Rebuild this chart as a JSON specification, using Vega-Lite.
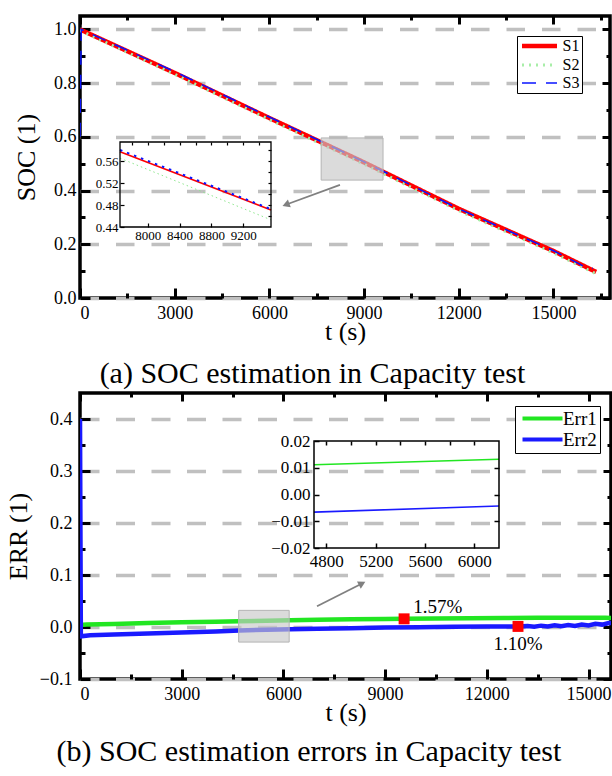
{
  "$schema": "https://vega.github.io/schema/vega-lite/v6.json",
  "padding": {"left": 3, "top": 12, "right": 0, "bottom": 0},
  "spacing": -2,
  "resolve": {"scale": {"color": "independent", "strokeDash": "independent", "strokeWidth": "independent"}, "legend": {"color": "independent", "strokeDash": "independent", "strokeWidth": "independent"}},
  "config": {
    "font": "Liberation Serif",
    "view": {"stroke": "black", "strokeWidth": 3.5},
    "axis": {"labelFont": "Liberation Serif", "titleFont": "Liberation Serif", "labelColor": "black", "titleColor": "black", "tickColor": "black", "domain": false, "titleFontWeight": "normal", "grid": false, "labelOverlap": false},
    "legend": {"labelFont": "Liberation Serif", "labelColor": "black"},
    "title": {"font": "Liberation Serif", "fontWeight": "normal", "color": "black"}
  },
  "vconcat": [
    {
      "width": 530,
      "height": 282,
      "title": {"text": "(a) SOC estimation in Capacity test", "orient": "bottom", "fontSize": 30, "offset": 15, "baseline": "top", "anchor": "middle", "frame": "bounds"},
      "resolve": {"scale": {"x": "independent", "y": "independent"}, "axis": {"x": "independent", "y": "independent"}},
      "layer": [
        {
          "data": {"values": [
            {"t": 0, "soc": 1.0, "series": "S1"},
            {"t": 3000, "soc": 0.838, "series": "S1"},
            {"t": 6000, "soc": 0.670, "series": "S1"},
            {"t": 9000, "soc": 0.505, "series": "S1"},
            {"t": 12000, "soc": 0.332, "series": "S1"},
            {"t": 15000, "soc": 0.175, "series": "S1"},
            {"t": 16350, "soc": 0.097, "series": "S1"},
            {"t": 0, "soc": 0.996, "series": "S2"},
            {"t": 3000, "soc": 0.833, "series": "S2"},
            {"t": 6000, "soc": 0.664, "series": "S2"},
            {"t": 9000, "soc": 0.498, "series": "S2"},
            {"t": 12000, "soc": 0.325, "series": "S2"},
            {"t": 15000, "soc": 0.168, "series": "S2"},
            {"t": 16350, "soc": 0.09, "series": "S2"}
          ]},
          "mark": {"type": "line", "clip": true},
          "encoding": {
            "x": {"field": "t", "type": "quantitative", "scale": {"domain": [0, 16790], "nice": false, "zero": false},
              "axis": {"orient": "bottom", "values": [0, 3000, 6000, 9000, 12000, 15000], "format": "d", "title": "t (s)", "labelFontSize": 18, "titleFontSize": 26, "tickSize": -10, "tickWidth": 3, "labelPadding": 16, "titlePadding": -4}},
            "y": {"field": "soc", "type": "quantitative", "scale": {"domain": [0, 1.05], "nice": false, "zero": false},
              "axis": {"orient": "left", "values": [0, 0.2, 0.4, 0.6, 0.8, 1.0], "format": ".1f", "title": "SOC (1)", "labelFontSize": 18, "titleFontSize": 26, "tickSize": -10, "tickWidth": 3, "labelPadding": 14, "titlePadding": 14, "grid": true, "gridColor": "#c0c0c0", "gridWidth": 3.5, "gridDash": [18.5, 17]}},
            "color": {"field": "series", "type": "nominal", "scale": {"domain": ["S1", "S2", "S3"], "range": ["#ff0000", "#a8eea8", "#0a14ff"]},
              "legend": {"title": null, "orient": "none", "legendX": 437, "legendY": 20, "strokeColor": "black", "fillColor": "white", "padding": 2, "labelFontSize": 16, "symbolType": "M-3.5,0H3.5", "symbolSize": 100, "symbolOffset": 12.5, "labelOffset": 15, "symbolStrokeWidth": 4, "rowPadding": 2}},
            "strokeDash": {"field": "series", "type": "nominal", "scale": {"domain": ["S1", "S2", "S3"], "range": [[1, 0], [2, 5], [14, 10]]}},
            "strokeWidth": {"field": "series", "type": "nominal", "scale": {"domain": ["S1", "S2", "S3"], "range": [4.5, 1.5, 5]}}
          }
        },
        {
          "data": {"values": [
            {"t": 0, "soc": 0.6, "series": "S3"},
            {"t": 40, "soc": 1.0, "series": "S3"},
            {"t": 3000, "soc": 0.843, "series": "S3"},
            {"t": 6000, "soc": 0.674, "series": "S3"},
            {"t": 9000, "soc": 0.507, "series": "S3"},
            {"t": 12000, "soc": 0.332, "series": "S3"},
            {"t": 15000, "soc": 0.176, "series": "S3"},
            {"t": 15800, "soc": 0.128, "series": "S3"},
            {"t": 16050, "soc": 0.112, "series": "S3"},
            {"t": 16250, "soc": 0.111, "series": "S3"}
          ]},
          "mark": {"type": "line", "clip": true},
          "encoding": {
            "x": {"field": "t", "type": "quantitative", "scale": {"domain": [0, 16790], "nice": false, "zero": false}, "axis": null},
            "y": {"field": "soc", "type": "quantitative", "scale": {"domain": [0, 1.05], "nice": false, "zero": false}, "axis": null},
            "color": {"field": "series", "type": "nominal", "scale": {"domain": ["S1", "S2", "S3"], "range": ["#ff0000", "#a8eea8", "#0a14ff"]}},
            "strokeDash": {"field": "series", "type": "nominal", "scale": {"domain": ["S1", "S2", "S3"], "range": [[1, 0], [2, 5], [14, 10]]}},
            "strokeWidth": {"field": "series", "type": "nominal", "scale": {"domain": ["S1", "S2", "S3"], "range": [4.5, 1.5, 5]}}
          }
        },
        {
          "data": {"values": [{"t": 0, "v": 0}]},
          "mark": {"type": "point", "opacity": 0},
          "encoding": {
            "x": {"field": "t", "type": "quantitative", "scale": {"domain": [0, 16790], "nice": false, "zero": false},
              "axis": {"orient": "top", "values": [0, 3000, 6000, 9000, 12000, 15000], "labels": false, "title": null, "tickSize": -8, "tickWidth": 3}},
            "y": {"field": "v", "type": "quantitative", "scale": {"domain": [0, 1.05], "nice": false, "zero": false},
              "axis": {"orient": "right", "values": [0, 0.2, 0.4, 0.6, 0.8, 1.0], "labels": false, "title": null, "tickSize": -8, "tickWidth": 3}}
          }
        },
        {
          "data": {"values": [{"t": 0, "v": 0}]},
          "mark": {"type": "point", "opacity": 0},
          "encoding": {
            "x": {"field": "t", "type": "quantitative", "scale": {"domain": [0, 16790], "nice": false, "zero": false},
              "axis": {"orient": "bottom", "values": [1500, 4500, 7500, 10500, 13500, 16500], "labels": false, "title": null, "tickSize": -5, "tickWidth": 3}},
            "y": {"field": "v", "type": "quantitative", "scale": {"domain": [0, 1.05], "nice": false, "zero": false},
              "axis": {"orient": "left", "values": [0.1, 0.3, 0.5, 0.7, 0.9], "labels": false, "title": null, "tickSize": -5, "tickWidth": 3}}
          }
        },
        {
          "data": {"values": [{"t": 0, "v": 0}]},
          "mark": {"type": "point", "opacity": 0},
          "encoding": {
            "x": {"field": "t", "type": "quantitative", "scale": {"domain": [0, 16790], "nice": false, "zero": false},
              "axis": {"orient": "top", "values": [1500, 4500, 7500, 10500, 13500, 16500], "labels": false, "title": null, "tickSize": -4, "tickWidth": 3}},
            "y": {"field": "v", "type": "quantitative", "scale": {"domain": [0, 1.05], "nice": false, "zero": false},
              "axis": {"orient": "right", "values": [0.1, 0.3, 0.5, 0.7, 0.9], "labels": false, "title": null, "tickSize": -4, "tickWidth": 3}}
          }
        },
        {
          "data": {"values": [{"t1": 7640, "t2": 9600, "s1": 0.439, "s2": 0.596}]},
          "mark": {"type": "rect", "fill": "#c8c8c8", "fillOpacity": 0.65, "stroke": "#b4b4b4", "strokeWidth": 1},
          "encoding": {
            "x": {"field": "t1", "type": "quantitative", "scale": {"domain": [0, 16790], "nice": false, "zero": false}, "axis": null},
            "x2": {"field": "t2"},
            "y": {"field": "s1", "type": "quantitative", "scale": {"domain": [0, 1.05], "nice": false, "zero": false}, "axis": null},
            "y2": {"field": "s2"}
          }
        },
        {
          "data": {"values": [{"t1": 8236, "s1": 0.421, "t2": 6560, "s2": 0.349}]},
          "mark": {"type": "rule", "color": "#808080", "strokeWidth": 1.8},
          "encoding": {
            "x": {"field": "t1", "type": "quantitative", "scale": {"domain": [0, 16790], "nice": false, "zero": false}, "axis": null},
            "x2": {"field": "t2"},
            "y": {"field": "s1", "type": "quantitative", "scale": {"domain": [0, 1.05], "nice": false, "zero": false}, "axis": null},
            "y2": {"field": "s2"}
          }
        },
        {
          "data": {"values": [{"t": 6560, "s": 0.349}]},
          "mark": {"type": "point", "shape": "triangle", "filled": true, "color": "#808080", "opacity": 1, "size": 70, "angle": 250},
          "encoding": {
            "x": {"field": "t", "type": "quantitative", "scale": {"domain": [0, 16790], "nice": false, "zero": false}, "axis": null},
            "y": {"field": "s", "type": "quantitative", "scale": {"domain": [0, 1.05], "nice": false, "zero": false}, "axis": null}
          }
        },
        {
          "data": {"values": [{"t": 7650, "s": 0.5655}, {"t": 9550, "s": 0.453}]},
          "mark": {"type": "line", "color": "#8ee88e", "strokeWidth": 1, "strokeDash": [1.5, 3]},
          "encoding": {
            "x": {"field": "t", "type": "quantitative", "scale": {"domain": [7650, 9550], "range": [40, 191], "nice": false, "zero": false}, "axis": null},
            "y": {"field": "s", "type": "quantitative", "scale": {"domain": [0.44, 0.595], "range": [211, 126], "nice": false, "zero": false}, "axis": null}
          }
        },
        {
          "data": {"values": [{"t": 7650, "s": 0.577}, {"t": 9550, "s": 0.471}]},
          "mark": {"type": "line", "color": "#ff0000", "strokeWidth": 1.6},
          "encoding": {
            "x": {"field": "t", "type": "quantitative", "scale": {"domain": [7650, 9550], "range": [40, 191], "nice": false, "zero": false}, "axis": null},
            "y": {"field": "s", "type": "quantitative", "scale": {"domain": [0.44, 0.595], "range": [211, 126], "nice": false, "zero": false}, "axis": null}
          }
        },
        {
          "data": {"values": [{"t": 7650, "s": 0.5805}, {"t": 9550, "s": 0.4725}]},
          "mark": {"type": "line", "color": "#0a14ff", "strokeWidth": 2, "strokeDash": [2.5, 5]},
          "encoding": {
            "x": {"field": "t", "type": "quantitative", "scale": {"domain": [7650, 9550], "range": [40, 191], "nice": false, "zero": false}, "axis": null},
            "y": {"field": "s", "type": "quantitative", "scale": {"domain": [0.44, 0.595], "range": [211, 126], "nice": false, "zero": false}, "axis": null}
          }
        },
        {
          "data": {"values": [{"t1": 7650, "t2": 9550, "s1": 0.44, "s2": 0.595}]},
          "mark": {"type": "rect", "fillOpacity": 0, "stroke": "black", "strokeWidth": 1.3},
          "encoding": {
            "x": {"field": "t1", "type": "quantitative", "scale": {"domain": [7650, 9550], "range": [40, 191], "nice": false, "zero": false},
              "axis": {"orient": "bottom", "offset": -71, "values": [8000, 8400, 8800, 9200], "format": "d", "title": null, "labelFontSize": 13, "tickSize": -4, "tickWidth": 1.2, "labelPadding": 6}},
            "x2": {"field": "t2"},
            "y": {"field": "s1", "type": "quantitative", "scale": {"domain": [0.44, 0.595], "range": [211, 126], "nice": false, "zero": false},
              "axis": {"orient": "left", "offset": -40, "values": [0.44, 0.48, 0.52, 0.56], "format": ".2f", "title": null, "labelFontSize": 13, "tickSize": -4, "tickWidth": 1.2, "labelPadding": 6}},
            "y2": {"field": "s2"}
          }
        },
        {
          "data": {"values": [{"t": 7650, "v": 0.44}]},
          "mark": {"type": "point", "opacity": 0},
          "encoding": {
            "x": {"field": "t", "type": "quantitative", "scale": {"domain": [7650, 9550], "range": [40, 191], "nice": false, "zero": false},
              "axis": {"orient": "top", "offset": -126, "values": [7800, 8000, 8200, 8400, 8600, 8800, 9000, 9200, 9400], "labels": false, "title": null, "tickSize": -3, "tickWidth": 1.2}},
            "y": {"field": "v", "type": "quantitative", "scale": {"domain": [0.44, 0.595], "range": [211, 126], "nice": false, "zero": false},
              "axis": {"orient": "right", "offset": -339, "values": [0.46, 0.48, 0.50, 0.52, 0.54, 0.56, 0.58], "labels": false, "title": null, "tickSize": -3, "tickWidth": 1.2}}
          }
        }
      ]
    },
    {
      "width": 531,
      "height": 286,
      "title": {"text": "(b) SOC estimation errors in Capacity test", "orient": "bottom", "fontSize": 30, "offset": 12, "baseline": "top", "anchor": "middle", "frame": "bounds"},
      "resolve": {"scale": {"x": "independent", "y": "independent"}, "axis": {"x": "independent", "y": "independent"}},
      "layer": [
        {
          "data": {"values": [
            {"t": 0, "e": 0.004, "series": "Err1"},
            {"t": 200, "e": 0.005, "series": "Err1"},
            {"t": 1000, "e": 0.006, "series": "Err1"},
            {"t": 2000, "e": 0.0075, "series": "Err1"},
            {"t": 3000, "e": 0.009, "series": "Err1"},
            {"t": 4000, "e": 0.0102, "series": "Err1"},
            {"t": 4700, "e": 0.0111, "series": "Err1"},
            {"t": 5500, "e": 0.0122, "series": "Err1"},
            {"t": 6200, "e": 0.0132, "series": "Err1"},
            {"t": 7000, "e": 0.0141, "series": "Err1"},
            {"t": 8000, "e": 0.0149, "series": "Err1"},
            {"t": 9000, "e": 0.0154, "series": "Err1"},
            {"t": 9560, "e": 0.0157, "series": "Err1"},
            {"t": 10500, "e": 0.0163, "series": "Err1"},
            {"t": 11500, "e": 0.0168, "series": "Err1"},
            {"t": 12500, "e": 0.0172, "series": "Err1"},
            {"t": 13500, "e": 0.0176, "series": "Err1"},
            {"t": 14500, "e": 0.0179, "series": "Err1"},
            {"t": 15200, "e": 0.018, "series": "Err1"},
            {"t": 15500, "e": 0.0177, "series": "Err1"},
            {"t": 15700, "e": 0.0171, "series": "Err1"},
            {"t": 0, "e": 0.4, "series": "Err2"},
            {"t": 25, "e": -0.018, "series": "Err2"},
            {"t": 300, "e": -0.016, "series": "Err2"},
            {"t": 1000, "e": -0.0145, "series": "Err2"},
            {"t": 2000, "e": -0.0125, "series": "Err2"},
            {"t": 3000, "e": -0.0105, "series": "Err2"},
            {"t": 4000, "e": -0.0085, "series": "Err2"},
            {"t": 4700, "e": -0.0066, "series": "Err2"},
            {"t": 5500, "e": -0.0055, "series": "Err2"},
            {"t": 6200, "e": -0.0043, "series": "Err2"},
            {"t": 7000, "e": -0.0033, "series": "Err2"},
            {"t": 8000, "e": -0.0022, "series": "Err2"},
            {"t": 9000, "e": -0.0012, "series": "Err2"},
            {"t": 10000, "e": -0.0003, "series": "Err2"},
            {"t": 11000, "e": 0.0004, "series": "Err2"},
            {"t": 12000, "e": 0.0009, "series": "Err2"},
            {"t": 12920, "e": 0.0011, "series": "Err2"},
            {"t": 13200, "e": 0.0019, "series": "Err2"},
            {"t": 13400, "e": 0.0006, "series": "Err2"},
            {"t": 13600, "e": 0.0026, "series": "Err2"},
            {"t": 13800, "e": 0.0011, "series": "Err2"},
            {"t": 14000, "e": 0.0031, "series": "Err2"},
            {"t": 14200, "e": 0.0016, "series": "Err2"},
            {"t": 14400, "e": 0.0039, "series": "Err2"},
            {"t": 14600, "e": 0.0021, "series": "Err2"},
            {"t": 14800, "e": 0.0049, "series": "Err2"},
            {"t": 15000, "e": 0.0031, "series": "Err2"},
            {"t": 15200, "e": 0.006, "series": "Err2"},
            {"t": 15400, "e": 0.0046, "series": "Err2"},
            {"t": 15600, "e": 0.0075, "series": "Err2"},
            {"t": 15700, "e": 0.008, "series": "Err2"}
          ]},
          "mark": {"type": "line", "clip": true, "strokeWidth": 4.5},
          "encoding": {
            "x": {"field": "t", "type": "quantitative", "scale": {"domain": [0, 15663], "nice": false, "zero": false},
              "axis": {"orient": "bottom", "values": [0, 3000, 6000, 9000, 12000, 15000], "format": "d", "title": "t (s)", "labelFontSize": 18, "titleFontSize": 26, "tickSize": -10, "tickWidth": 3, "labelPadding": 16, "titlePadding": -4}},
            "y": {"field": "e", "type": "quantitative", "scale": {"domain": [-0.1, 0.45], "nice": false, "zero": false},
              "axis": {"orient": "left", "values": [-0.1, 0, 0.1, 0.2, 0.3, 0.4], "format": ".1f", "title": "ERR (1)", "labelFontSize": 18, "titleFontSize": 26, "tickSize": -10, "tickWidth": 3, "labelPadding": 18, "titlePadding": 8, "grid": true, "gridColor": "#c0c0c0", "gridWidth": 3.5, "gridDash": [19, 16.5]}},
            "color": {"field": "series", "type": "nominal", "scale": {"domain": ["Err1", "Err2"], "range": ["#22e622", "#1a1aff"]},
              "legend": {"title": null, "orient": "none", "legendX": 435, "legendY": 13, "strokeColor": "black", "fillColor": "white", "padding": 3, "labelFontSize": 19, "symbolType": "M-4,0H4", "symbolSize": 100, "symbolOffset": 15, "labelOffset": 11, "symbolStrokeWidth": 4, "rowPadding": 1}}
          }
        },
        {
          "data": {"values": [{"t": 0, "v": 0}]},
          "mark": {"type": "point", "opacity": 0},
          "encoding": {
            "x": {"field": "t", "type": "quantitative", "scale": {"domain": [0, 15663], "nice": false, "zero": false},
              "axis": {"orient": "top", "values": [0, 3000, 6000, 9000, 12000, 15000], "labels": false, "title": null, "tickSize": -8, "tickWidth": 3}},
            "y": {"field": "v", "type": "quantitative", "scale": {"domain": [-0.1, 0.45], "nice": false, "zero": false},
              "axis": {"orient": "right", "values": [-0.1, 0, 0.1, 0.2, 0.3, 0.4], "labels": false, "title": null, "tickSize": -8, "tickWidth": 3}}
          }
        },
        {
          "data": {"values": [{"t": 0, "v": 0}]},
          "mark": {"type": "point", "opacity": 0},
          "encoding": {
            "x": {"field": "t", "type": "quantitative", "scale": {"domain": [0, 15663], "nice": false, "zero": false},
              "axis": {"orient": "bottom", "values": [1500, 4500, 7500, 10500, 13500], "labels": false, "title": null, "tickSize": -5, "tickWidth": 3}},
            "y": {"field": "v", "type": "quantitative", "scale": {"domain": [-0.1, 0.45], "nice": false, "zero": false},
              "axis": {"orient": "left", "values": [-0.05, 0.05, 0.15, 0.25, 0.35], "labels": false, "title": null, "tickSize": -5, "tickWidth": 3}}
          }
        },
        {
          "data": {"values": [{"t": 0, "v": 0}]},
          "mark": {"type": "point", "opacity": 0},
          "encoding": {
            "x": {"field": "t", "type": "quantitative", "scale": {"domain": [0, 15663], "nice": false, "zero": false},
              "axis": {"orient": "top", "values": [1500, 4500, 7500, 10500, 13500], "labels": false, "title": null, "tickSize": -4, "tickWidth": 3}},
            "y": {"field": "v", "type": "quantitative", "scale": {"domain": [-0.1, 0.45], "nice": false, "zero": false},
              "axis": {"orient": "right", "values": [-0.05, 0.05, 0.15, 0.25, 0.35], "labels": false, "title": null, "tickSize": -4, "tickWidth": 3}}
          }
        },
        {
          "data": {"values": [{"t1": 4680, "t2": 6170, "e1": -0.029, "e2": 0.032}]},
          "mark": {"type": "rect", "fill": "#c8c8c8", "fillOpacity": 0.65, "stroke": "#b4b4b4", "strokeWidth": 1},
          "encoding": {
            "x": {"field": "t1", "type": "quantitative", "scale": {"domain": [0, 15663], "nice": false, "zero": false}, "axis": null},
            "x2": {"field": "t2"},
            "y": {"field": "e1", "type": "quantitative", "scale": {"domain": [-0.1, 0.45], "nice": false, "zero": false}, "axis": null},
            "y2": {"field": "e2"}
          }
        },
        {
          "data": {"values": [{"t1": 6991, "e1": 0.040, "t2": 8290, "e2": 0.0826}]},
          "mark": {"type": "rule", "color": "#808080", "strokeWidth": 1.8},
          "encoding": {
            "x": {"field": "t1", "type": "quantitative", "scale": {"domain": [0, 15663], "nice": false, "zero": false}, "axis": null},
            "x2": {"field": "t2"},
            "y": {"field": "e1", "type": "quantitative", "scale": {"domain": [-0.1, 0.45], "nice": false, "zero": false}, "axis": null},
            "y2": {"field": "e2"}
          }
        },
        {
          "data": {"values": [{"t": 8290, "e": 0.0826}]},
          "mark": {"type": "point", "shape": "triangle", "filled": true, "color": "#808080", "opacity": 1, "size": 70, "angle": 63},
          "encoding": {
            "x": {"field": "t", "type": "quantitative", "scale": {"domain": [0, 15663], "nice": false, "zero": false}, "axis": null},
            "y": {"field": "e", "type": "quantitative", "scale": {"domain": [-0.1, 0.45], "nice": false, "zero": false}, "axis": null}
          }
        },
        {
          "data": {"values": [{"t": 9560, "e": 0.0157}, {"t": 12920, "e": 0.0011}]},
          "mark": {"type": "square", "color": "#ff0000", "opacity": 1, "size": 120},
          "encoding": {
            "x": {"field": "t", "type": "quantitative", "scale": {"domain": [0, 15663], "nice": false, "zero": false}, "axis": null},
            "y": {"field": "e", "type": "quantitative", "scale": {"domain": [-0.1, 0.45], "nice": false, "zero": false}, "axis": null}
          }
        },
        {
          "data": {"values": [{"t": 10550, "e": 0.0385, "label": "1.57%"}, {"t": 12920, "e": -0.0327, "label": "1.10%"}]},
          "mark": {"type": "text", "fontSize": 19, "font": "Liberation Serif", "color": "black", "baseline": "middle", "align": "center"},
          "encoding": {
            "x": {"field": "t", "type": "quantitative", "scale": {"domain": [0, 15663], "nice": false, "zero": false}, "axis": null},
            "y": {"field": "e", "type": "quantitative", "scale": {"domain": [-0.1, 0.45], "nice": false, "zero": false}, "axis": null},
            "text": {"field": "label"}
          }
        },
        {
          "data": {"values": [{"t": 4700, "e": 0.0111}, {"t": 6200, "e": 0.0132}]},
          "mark": {"type": "line", "color": "#22e622", "strokeWidth": 1.6},
          "encoding": {
            "x": {"field": "t", "type": "quantitative", "scale": {"domain": [4700, 6200], "range": [234, 419], "nice": false, "zero": false}, "axis": null},
            "y": {"field": "e", "type": "quantitative", "scale": {"domain": [-0.02, 0.02], "range": [155, 48], "nice": false, "zero": false}, "axis": null}
          }
        },
        {
          "data": {"values": [{"t": 4700, "e": -0.0066}, {"t": 6200, "e": -0.0043}]},
          "mark": {"type": "line", "color": "#1a1aff", "strokeWidth": 1.6},
          "encoding": {
            "x": {"field": "t", "type": "quantitative", "scale": {"domain": [4700, 6200], "range": [234, 419], "nice": false, "zero": false}, "axis": null},
            "y": {"field": "e", "type": "quantitative", "scale": {"domain": [-0.02, 0.02], "range": [155, 48], "nice": false, "zero": false}, "axis": null}
          }
        },
        {
          "data": {"values": [{"t1": 4700, "t2": 6200, "e1": -0.02, "e2": 0.02}]},
          "mark": {"type": "rect", "fillOpacity": 0, "stroke": "black", "strokeWidth": 1.5},
          "encoding": {
            "x": {"field": "t1", "type": "quantitative", "scale": {"domain": [4700, 6200], "range": [234, 419], "nice": false, "zero": false},
              "axis": {"orient": "bottom", "offset": -131, "values": [4800, 5200, 5600, 6000], "format": "d", "title": null, "labelFontSize": 17, "tickSize": -5, "tickWidth": 1.5, "labelPadding": 10}},
            "x2": {"field": "t2"},
            "y": {"field": "e1", "type": "quantitative", "scale": {"domain": [-0.02, 0.02], "range": [155, 48], "nice": false, "zero": false},
              "axis": {"orient": "left", "offset": -234, "values": [-0.02, -0.01, 0, 0.01, 0.02], "format": ".2f", "title": null, "labelFontSize": 17, "tickSize": -5, "tickWidth": 1.5, "labelPadding": 9}},
            "y2": {"field": "e2"}
          }
        },
        {
          "data": {"values": [{"t": 4700, "v": -0.02}]},
          "mark": {"type": "point", "opacity": 0},
          "encoding": {
            "x": {"field": "t", "type": "quantitative", "scale": {"domain": [4700, 6200], "range": [234, 419], "nice": false, "zero": false},
              "axis": {"orient": "top", "offset": -48, "values": [4800, 5000, 5200, 5400, 5600, 5800, 6000], "labels": false, "title": null, "tickSize": -4, "tickWidth": 1.5}},
            "y": {"field": "v", "type": "quantitative", "scale": {"domain": [-0.02, 0.02], "range": [155, 48], "nice": false, "zero": false},
              "axis": {"orient": "right", "offset": -112, "values": [-0.01, 0, 0.01], "labels": false, "title": null, "tickSize": -5, "tickWidth": 1.5}}
          }
        }
      ]
    }
  ]
}
